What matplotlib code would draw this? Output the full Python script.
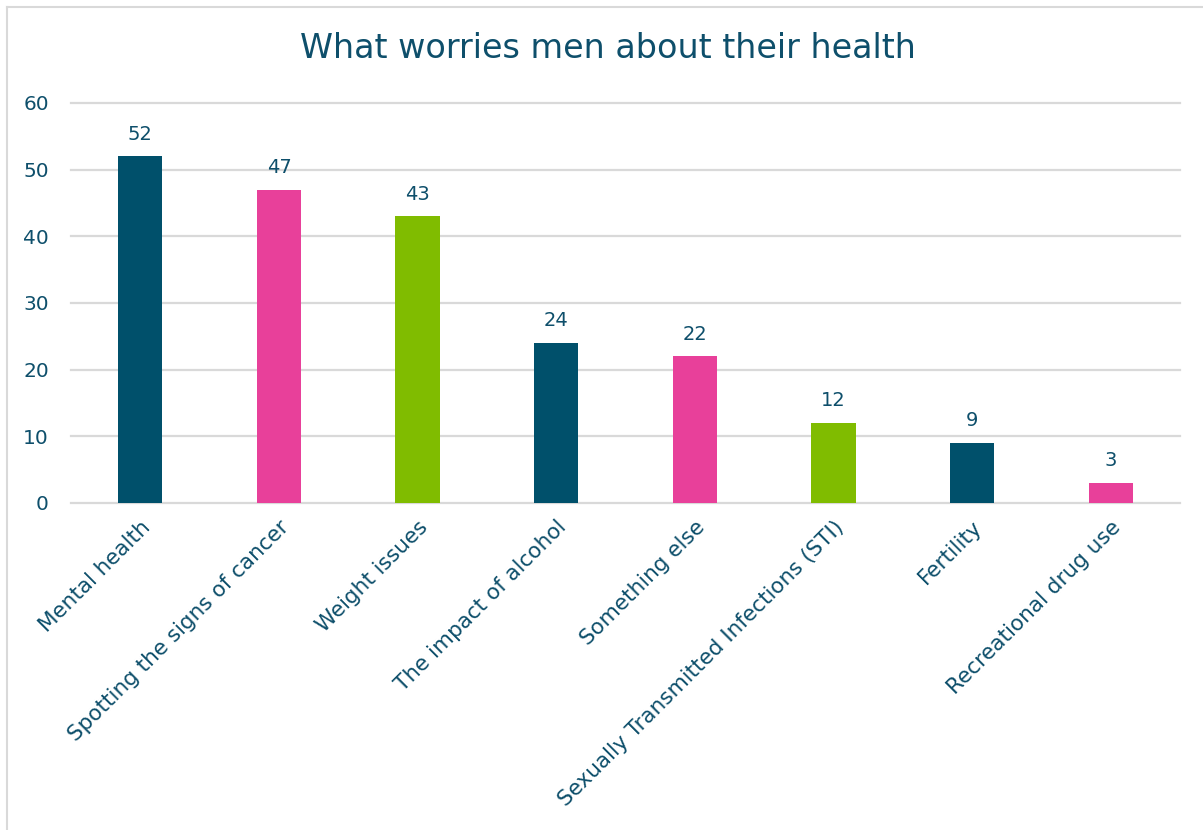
import matplotlib
matplotlib.use("Agg")
import matplotlib.pyplot as plt
from matplotlib.lines import Line2D

categories = ["Mental health", "Spotting the signs of cancer", "Weight issues",
              "The impact of alcohol", "Something else",
              "Sexually Transmitted Infections (STI)", "Fertility",
              "Recreational drug use"]
values = [52, 47, 43, 24, 22, 12, 9, 3]
bar_colors = ["#00506B", "#E8409A", "#80BC00", "#00506B", "#E8409A",
              "#80BC00", "#00506B", "#E8409A"]
yticks = [0, 10, 20, 30, 40, 50, 60]

text_color = "#0E4F6B"
grid_color = "#D9D9D9"

plt.rcParams["font.family"] = ["DejaVu Sans"]

fig = plt.figure(figsize=(12.03, 8.30), dpi=100)
ax = fig.add_axes([0.059, 0.394, 0.922, 0.482])

x = range(len(categories))
ax.bar(x, values, width=0.32, color=bar_colors, zorder=3)

for xi, v in zip(x, values):
    ax.annotate(str(v), (xi, v), xytext=(0, 9), textcoords="offset points",
                ha="center", va="bottom", fontsize=14, color=text_color)

ax.set_xlim(-0.5, len(categories) - 0.5)
ax.set_ylim(0, 60)
ax.set_yticks(yticks)
ax.yaxis.grid(True, color=grid_color, linewidth=1.6, zorder=0)
for gl in ax.get_ygridlines():
    gl.set_clip_on(False)
ax.set_axisbelow(True)
for s in ax.spines.values():
    s.set_visible(False)

ax.set_xticks(list(x))
ax.set_xticklabels(categories, rotation=45, ha="right", rotation_mode="anchor",
                   fontsize=15.5, color=text_color)
ax.tick_params(axis="x", length=0, pad=10)
ax.tick_params(axis="y", length=0, pad=16, labelsize=14.5, labelcolor=text_color)

fig.suptitle("What worries men about their health", x=0.505, y=0.942,
             fontsize=24, color=text_color, va="center")

# thin frame around the chart area
fig.add_artist(Line2D([7 / 1203, 7 / 1203], [0, 1 - 7 / 830],
                      color="#D9D9D9", linewidth=1.5, transform=fig.transFigure))
fig.add_artist(Line2D([7 / 1203, 1], [1 - 7 / 830, 1 - 7 / 830],
                      color="#D9D9D9", linewidth=1.5, transform=fig.transFigure))

fig.savefig("out.png", dpi=100, facecolor="white")
